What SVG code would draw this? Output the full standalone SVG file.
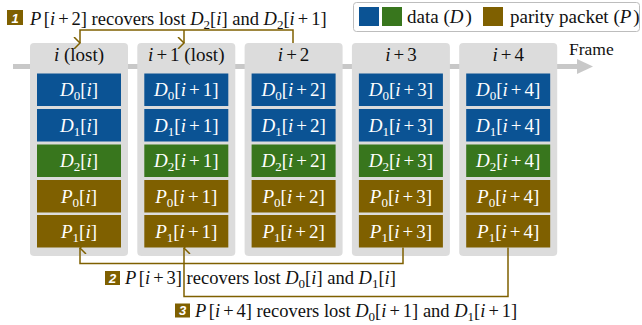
<svg xmlns="http://www.w3.org/2000/svg" width="642" height="325" viewBox="0 0 642 325">
<style>
text{font-family:'Liberation Serif','Times New Roman',serif;font-size:19px;fill:#111}
.it{font-style:italic}
.sub{font-size:13px}
.lbl{font-size:18.5px}
.cell text{fill:#fff;text-anchor:middle}
.cell text.hdr{fill:#111}
.frame{fill:#dcdcdc}
.blue{fill:#0b5394}
.green{fill:#38761d}
.brown{fill:#7f6000}
.conn{fill:none;stroke:#7f6000;stroke-width:1.5}
.badge{fill:#7f6000}
text.bnum{font-family:'Liberation Sans',Arial,sans-serif;font-size:13px;font-weight:bold;font-style:italic;fill:#fff;text-anchor:middle}
</style>
<defs>
<marker id="ah" viewBox="0 0 12 8" refX="6" refY="1" markerWidth="12" markerHeight="8" markerUnits="userSpaceOnUse" orient="auto-start-reverse">
<polyline points="0,7 6,1 12,7" fill="none" stroke="#7f6000" stroke-width="1.5"/>
</marker>
</defs>

<g id="axis">
<rect x="13" y="64" width="565" height="5" fill="#c8c8c8"/>
<polygon points="577,59 593,66.5 577,74" fill="#c8c8c8"/>
<text x="569" y="55" style="font-size:17.5px">Frame</text>
</g>

<g id="legend">
<rect x="353.5" y="2.5" width="286" height="29" rx="3" fill="#fff" stroke="#bdbdbd"/>
<rect x="359" y="7" width="20" height="19" class="blue"/>
<rect x="382" y="7" width="20" height="19" class="green"/>
<text x="407" y="23">data (<tspan class="it">D</tspan><tspan dx="2">)</tspan></text>
<rect x="483" y="7" width="20" height="19" class="brown"/>
<text x="510" y="23">parity packet (<tspan class="it">P</tspan><tspan dx="2">)</tspan></text>
</g>

<g id="frame-i" class="cell">
<rect x="30" y="43" width="98" height="213" rx="4" class="frame"/>
<text class="hdr" x="79" y="61"><tspan class="it">i</tspan> (lost)</text>
<rect x="37" y="73.5" width="84" height="32.5" class="blue"/>
<rect x="37" y="109" width="84" height="32.5" class="blue"/>
<rect x="37" y="144.5" width="84" height="32.5" class="green"/>
<rect x="37" y="180" width="84" height="32.5" class="brown"/>
<rect x="37" y="215" width="84" height="32.5" class="brown"/>
<text x="79" y="96"><tspan class="it">D</tspan><tspan class="sub" dy="4">0</tspan><tspan dy="-4">[</tspan><tspan class="it">i</tspan>]</text>
<text x="79" y="131.5"><tspan class="it">D</tspan><tspan class="sub" dy="4">1</tspan><tspan dy="-4">[</tspan><tspan class="it">i</tspan>]</text>
<text x="79" y="167"><tspan class="it">D</tspan><tspan class="sub" dy="4">2</tspan><tspan dy="-4">[</tspan><tspan class="it">i</tspan>]</text>
<text x="79" y="202.5"><tspan class="it">P</tspan><tspan class="sub" dy="4">0</tspan><tspan dy="-4">[</tspan><tspan class="it">i</tspan>]</text>
<text x="79" y="237.5"><tspan class="it">P</tspan><tspan class="sub" dy="4">1</tspan><tspan dy="-4">[</tspan><tspan class="it">i</tspan>]</text>
</g>

<g id="frame-i1" class="cell">
<rect x="137.3" y="43" width="98" height="213" rx="4" class="frame"/>
<text class="hdr" x="186.3" y="61"><tspan class="it">i</tspan><tspan dx="3">+</tspan><tspan dx="3">1 (lost)</tspan></text>
<rect x="144.3" y="73.5" width="84" height="32.5" class="blue"/>
<rect x="144.3" y="109" width="84" height="32.5" class="blue"/>
<rect x="144.3" y="144.5" width="84" height="32.5" class="green"/>
<rect x="144.3" y="180" width="84" height="32.5" class="brown"/>
<rect x="144.3" y="215" width="84" height="32.5" class="brown"/>
<text x="186.3" y="96"><tspan class="it">D</tspan><tspan class="sub" dy="4">0</tspan><tspan dy="-4">[</tspan><tspan class="it">i</tspan><tspan dx="3">+</tspan><tspan dx="3">1]</tspan></text>
<text x="186.3" y="131.5"><tspan class="it">D</tspan><tspan class="sub" dy="4">1</tspan><tspan dy="-4">[</tspan><tspan class="it">i</tspan><tspan dx="3">+</tspan><tspan dx="3">1]</tspan></text>
<text x="186.3" y="167"><tspan class="it">D</tspan><tspan class="sub" dy="4">2</tspan><tspan dy="-4">[</tspan><tspan class="it">i</tspan><tspan dx="3">+</tspan><tspan dx="3">1]</tspan></text>
<text x="186.3" y="202.5"><tspan class="it">P</tspan><tspan class="sub" dy="4">0</tspan><tspan dy="-4">[</tspan><tspan class="it">i</tspan><tspan dx="3">+</tspan><tspan dx="3">1]</tspan></text>
<text x="186.3" y="237.5"><tspan class="it">P</tspan><tspan class="sub" dy="4">1</tspan><tspan dy="-4">[</tspan><tspan class="it">i</tspan><tspan dx="3">+</tspan><tspan dx="3">1]</tspan></text>
</g>

<g id="frame-i2" class="cell">
<rect x="244.6" y="43" width="98" height="213" rx="4" class="frame"/>
<text class="hdr" x="293.6" y="61"><tspan class="it">i</tspan><tspan dx="3">+</tspan><tspan dx="3">2</tspan></text>
<rect x="251.6" y="73.5" width="84" height="32.5" class="blue"/>
<rect x="251.6" y="109" width="84" height="32.5" class="blue"/>
<rect x="251.6" y="144.5" width="84" height="32.5" class="green"/>
<rect x="251.6" y="180" width="84" height="32.5" class="brown"/>
<rect x="251.6" y="215" width="84" height="32.5" class="brown"/>
<text x="293.6" y="96"><tspan class="it">D</tspan><tspan class="sub" dy="4">0</tspan><tspan dy="-4">[</tspan><tspan class="it">i</tspan><tspan dx="3">+</tspan><tspan dx="3">2]</tspan></text>
<text x="293.6" y="131.5"><tspan class="it">D</tspan><tspan class="sub" dy="4">1</tspan><tspan dy="-4">[</tspan><tspan class="it">i</tspan><tspan dx="3">+</tspan><tspan dx="3">2]</tspan></text>
<text x="293.6" y="167"><tspan class="it">D</tspan><tspan class="sub" dy="4">2</tspan><tspan dy="-4">[</tspan><tspan class="it">i</tspan><tspan dx="3">+</tspan><tspan dx="3">2]</tspan></text>
<text x="293.6" y="202.5"><tspan class="it">P</tspan><tspan class="sub" dy="4">0</tspan><tspan dy="-4">[</tspan><tspan class="it">i</tspan><tspan dx="3">+</tspan><tspan dx="3">2]</tspan></text>
<text x="293.6" y="237.5"><tspan class="it">P</tspan><tspan class="sub" dy="4">1</tspan><tspan dy="-4">[</tspan><tspan class="it">i</tspan><tspan dx="3">+</tspan><tspan dx="3">2]</tspan></text>
</g>

<g id="frame-i3" class="cell">
<rect x="351.9" y="43" width="98" height="213" rx="4" class="frame"/>
<text class="hdr" x="400.9" y="61"><tspan class="it">i</tspan><tspan dx="3">+</tspan><tspan dx="3">3</tspan></text>
<rect x="358.9" y="73.5" width="84" height="32.5" class="blue"/>
<rect x="358.9" y="109" width="84" height="32.5" class="blue"/>
<rect x="358.9" y="144.5" width="84" height="32.5" class="green"/>
<rect x="358.9" y="180" width="84" height="32.5" class="brown"/>
<rect x="358.9" y="215" width="84" height="32.5" class="brown"/>
<text x="400.9" y="96"><tspan class="it">D</tspan><tspan class="sub" dy="4">0</tspan><tspan dy="-4">[</tspan><tspan class="it">i</tspan><tspan dx="3">+</tspan><tspan dx="3">3]</tspan></text>
<text x="400.9" y="131.5"><tspan class="it">D</tspan><tspan class="sub" dy="4">1</tspan><tspan dy="-4">[</tspan><tspan class="it">i</tspan><tspan dx="3">+</tspan><tspan dx="3">3]</tspan></text>
<text x="400.9" y="167"><tspan class="it">D</tspan><tspan class="sub" dy="4">2</tspan><tspan dy="-4">[</tspan><tspan class="it">i</tspan><tspan dx="3">+</tspan><tspan dx="3">3]</tspan></text>
<text x="400.9" y="202.5"><tspan class="it">P</tspan><tspan class="sub" dy="4">0</tspan><tspan dy="-4">[</tspan><tspan class="it">i</tspan><tspan dx="3">+</tspan><tspan dx="3">3]</tspan></text>
<text x="400.9" y="237.5"><tspan class="it">P</tspan><tspan class="sub" dy="4">1</tspan><tspan dy="-4">[</tspan><tspan class="it">i</tspan><tspan dx="3">+</tspan><tspan dx="3">3]</tspan></text>
</g>

<g id="frame-i4" class="cell">
<rect x="459.2" y="43" width="98" height="213" rx="4" class="frame"/>
<text class="hdr" x="508.2" y="61"><tspan class="it">i</tspan><tspan dx="3">+</tspan><tspan dx="3">4</tspan></text>
<rect x="466.2" y="73.5" width="84" height="32.5" class="blue"/>
<rect x="466.2" y="109" width="84" height="32.5" class="blue"/>
<rect x="466.2" y="144.5" width="84" height="32.5" class="green"/>
<rect x="466.2" y="180" width="84" height="32.5" class="brown"/>
<rect x="466.2" y="215" width="84" height="32.5" class="brown"/>
<text x="508.2" y="96"><tspan class="it">D</tspan><tspan class="sub" dy="4">0</tspan><tspan dy="-4">[</tspan><tspan class="it">i</tspan><tspan dx="3">+</tspan><tspan dx="3">4]</tspan></text>
<text x="508.2" y="131.5"><tspan class="it">D</tspan><tspan class="sub" dy="4">1</tspan><tspan dy="-4">[</tspan><tspan class="it">i</tspan><tspan dx="3">+</tspan><tspan dx="3">4]</tspan></text>
<text x="508.2" y="167"><tspan class="it">D</tspan><tspan class="sub" dy="4">2</tspan><tspan dy="-4">[</tspan><tspan class="it">i</tspan><tspan dx="3">+</tspan><tspan dx="3">4]</tspan></text>
<text x="508.2" y="202.5"><tspan class="it">P</tspan><tspan class="sub" dy="4">0</tspan><tspan dy="-4">[</tspan><tspan class="it">i</tspan><tspan dx="3">+</tspan><tspan dx="3">4]</tspan></text>
<text x="508.2" y="237.5"><tspan class="it">P</tspan><tspan class="sub" dy="4">1</tspan><tspan dy="-4">[</tspan><tspan class="it">i</tspan><tspan dx="3">+</tspan><tspan dx="3">4]</tspan></text>
</g>

<g id="connectors">
<polyline class="conn" points="293,43 293,30 80,30 80,43" marker-end="url(#ah)"/>
<polyline class="conn" points="184,30 184,43" marker-end="url(#ah)"/>
<polyline class="conn" points="403,247.5 403,263.5 80,263.5 80,248" marker-end="url(#ah)"/>
<polyline class="conn" points="508,247.5 508,296.5 184,296.5 184,248" marker-end="url(#ah)"/>
</g>

<g id="label1">
<rect x="7" y="10" width="16" height="15" class="badge"/>
<text class="bnum" x="15" y="22.5">1</text>
<text class="lbl" x="30" y="25"><tspan class="it">P</tspan><tspan dx="2.5">[</tspan><tspan class="it">i</tspan><tspan dx="3">+</tspan><tspan dx="3">2] recovers lost </tspan><tspan class="it">D</tspan><tspan class="sub" dy="4">2</tspan><tspan dy="-4">[</tspan><tspan class="it">i</tspan>] and <tspan class="it">D</tspan><tspan class="sub" dy="4">2</tspan><tspan dy="-4">[</tspan><tspan class="it">i</tspan><tspan dx="3">+</tspan><tspan dx="3">1]</tspan></text>
</g>
<g id="label2">
<rect x="105" y="271" width="15" height="14" class="badge"/>
<text class="bnum" x="112.5" y="282.5">2</text>
<text class="lbl" x="125" y="283.5"><tspan class="it">P</tspan><tspan dx="2.5">[</tspan><tspan class="it">i</tspan><tspan dx="3">+</tspan><tspan dx="3">3] recovers lost </tspan><tspan class="it">D</tspan><tspan class="sub" dy="4">0</tspan><tspan dy="-4">[</tspan><tspan class="it">i</tspan>] and <tspan class="it">D</tspan><tspan class="sub" dy="4">1</tspan><tspan dy="-4">[</tspan><tspan class="it">i</tspan>]</text>
</g>
<g id="label3">
<rect x="175" y="303.5" width="15" height="14" class="badge"/>
<text class="bnum" x="182.5" y="315">3</text>
<text class="lbl" x="195" y="316.5"><tspan class="it">P</tspan><tspan dx="2.5">[</tspan><tspan class="it">i</tspan><tspan dx="3">+</tspan><tspan dx="3">4] recovers lost </tspan><tspan class="it">D</tspan><tspan class="sub" dy="4">0</tspan><tspan dy="-4">[</tspan><tspan class="it">i</tspan><tspan dx="3">+</tspan><tspan dx="3">1] and </tspan><tspan class="it">D</tspan><tspan class="sub" dy="4">1</tspan><tspan dy="-4">[</tspan><tspan class="it">i</tspan><tspan dx="3">+</tspan><tspan dx="3">1]</tspan></text>
</g>
</svg>
